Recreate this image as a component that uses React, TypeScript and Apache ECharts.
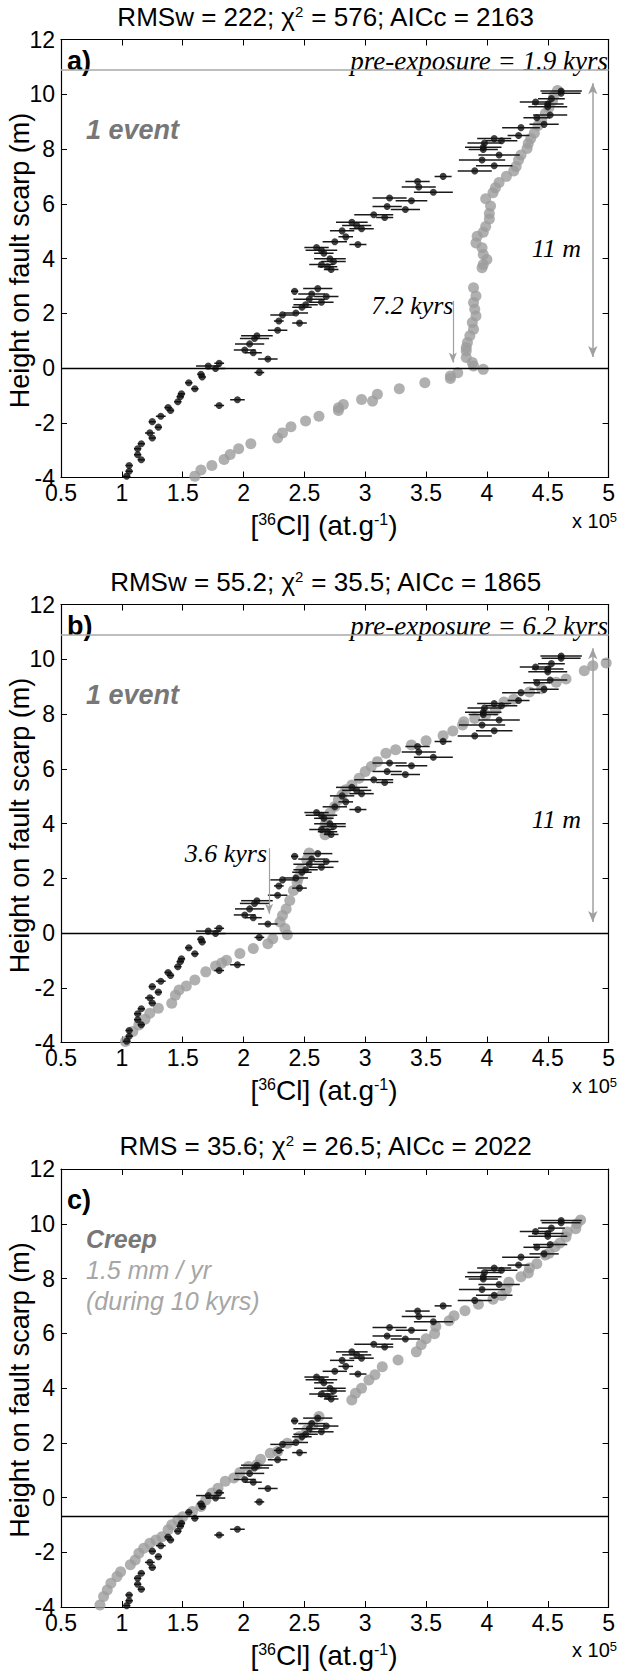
import React, { useEffect, useRef } from "react";
import * as echarts from "echarts";

// ---------------- data (concentration in 1e5 at/g, height in m) ----------------
const xTicks = ["0.5", "1", "1.5", "2", "2.5", "3", "3.5", "4", "4.5", "5"];
const yTicks = ["-4", "-2", "0", "2", "4", "6", "8", "10", "12"];

// measured samples: [concentration, height, half error bar]
const observed: number[][] = [
  [4.61, 10.12, 0.17], [4.61, 10.04, 0.16], [4.53, 9.84, 0.11], [4.40, 9.72, 0.13],
  [4.50, 9.64, 0.13], [4.50, 9.54, 0.16], [4.52, 9.24, 0.14], [4.41, 9.14, 0.11],
  [4.47, 8.90, 0.12], [4.28, 8.78, 0.155], [4.26, 8.49, 0.09], [4.06, 8.38, 0.14],
  [4.12, 8.30, 0.13], [3.98, 8.22, 0.14], [3.97, 8.06, 0.15], [3.97, 7.98, 0.12],
  [4.10, 7.78, 0.17], [3.96, 7.60, 0.19], [4.06, 7.39, 0.15], [3.90, 7.20, 0.14],
  [3.64, 7.00, 0.07], [3.43, 6.81, 0.10], [3.44, 6.61, 0.14], [3.56, 6.42, 0.16],
  [3.20, 6.21, 0.14], [3.38, 6.11, 0.13], [3.18, 5.90, 0.12], [3.33, 5.79, 0.12],
  [3.07, 5.60, 0.16], [3.16, 5.50, 0.07], [2.89, 5.32, 0.13], [2.93, 5.21, 0.12],
  [2.97, 5.09, 0.10], [2.81, 5.01, 0.10], [2.84, 4.79, 0.06], [2.75, 4.61, 0.10],
  [2.94, 4.51, 0.07], [2.60, 4.40, 0.10], [2.64, 4.30, 0.13], [2.66, 4.19, 0.08],
  [2.71, 3.99, 0.13], [2.74, 3.89, 0.10], [2.64, 3.78, 0.10], [2.69, 3.70, 0.08],
  [2.72, 3.60, 0.06], [2.61, 2.90, 0.12], [2.42, 2.80, 0.03], [2.56, 2.70, 0.11],
  [2.68, 2.61, 0.10], [2.54, 2.51, 0.13], [2.64, 2.40, 0.10], [2.51, 2.31, 0.10],
  [2.48, 2.22, 0.08], [2.43, 2.01, 0.10], [2.32, 1.94, 0.10], [2.29, 1.72, 0.04],
  [2.46, 1.64, 0.06], [2.28, 1.38, 0.08], [2.11, 1.18, 0.13], [2.09, 1.08, 0.12],
  [2.05, 0.88, 0.12], [2.01, 0.66, 0.09], [2.08, 0.56, 0.07], [2.20, 0.33, 0.08],
  [1.80, 0.17, 0.04], [1.71, 0.07, 0.10], [1.77, -0.02, 0.08], [2.13, -0.16, 0.04],
  [1.65, -0.23, 0.03], [1.66, -0.33, 0.03], [1.55, -0.54, 0.03], [1.60, -0.76, 0.03],
  [1.49, -0.94, 0.03], [1.48, -1.05, 0.03], [1.95, -1.16, 0.06], [1.46, -1.23, 0.03],
  [1.80, -1.37, 0.04], [1.38, -1.44, 0.03], [1.40, -1.55, 0.03], [1.32, -1.76, 0.04],
  [1.25, -1.96, 0.03], [1.30, -2.16, 0.03], [1.23, -2.37, 0.04], [1.25, -2.56, 0.03],
  [1.16, -2.77, 0.03], [1.13, -2.95, 0.03], [1.13, -3.17, 0.03], [1.16, -3.35, 0.03],
  [1.06, -3.56, 0.03], [1.06, -3.77, 0.03], [1.04, -3.95, 0.03],
];

// modelled profile, panel a (1 event, 7.2 kyrs)
const modelA: number[][] = [
  [4.58, 10.14], [4.55, 9.94], [4.54, 9.76], [4.51, 9.52], [4.48, 9.30], [4.45, 9.06],
  [4.42, 8.86], [4.39, 8.58], [4.36, 8.38], [4.34, 8.20], [4.33, 8.02], [4.28, 7.78],
  [4.26, 7.60], [4.24, 7.36], [4.22, 7.20], [4.16, 7.00], [4.10, 6.78], [4.07, 6.58],
  [4.05, 6.40], [3.99, 6.18], [4.03, 5.92], [4.02, 5.64], [4.02, 5.44], [3.99, 5.17],
  [3.97, 4.96], [3.92, 4.81], [3.91, 4.57], [3.96, 4.39], [3.97, 4.15], [4.00, 3.96],
  [3.97, 3.78], [3.96, 3.66], [3.89, 2.93], [3.91, 2.63], [3.89, 2.39], [3.90, 2.15],
  [3.91, 1.90], [3.88, 1.66], [3.89, 1.42], [3.86, 1.18], [3.84, 0.93], [3.83, 0.75],
  [3.83, 0.62], [3.83, 0.38], [3.88, 0.20], [3.89, 0.07], [3.97, -0.05], [3.76, -0.17],
  [3.70, -0.29], [3.70, -0.38], [3.49, -0.54], [3.28, -0.76], [3.10, -0.96], [2.97, -1.15],
  [3.06, -1.21], [2.82, -1.33], [2.78, -1.45], [2.78, -1.55], [2.62, -1.76], [2.51, -1.94],
  [2.39, -2.15], [2.32, -2.37], [2.28, -2.56], [2.06, -2.77], [1.96, -2.95], [1.89, -3.16],
  [1.84, -3.34], [1.74, -3.56], [1.65, -3.73], [1.60, -3.95],
];

// modelled profile, panel b (1 event, 3.6 kyrs)
const modelB: number[][] = [
  [4.98, 9.86], [4.87, 9.76], [4.80, 9.58], [4.65, 9.28], [4.57, 9.16], [4.45, 8.92],
  [4.35, 8.80], [4.22, 8.54], [4.14, 8.44], [4.07, 8.14], [3.99, 7.96], [3.90, 7.84],
  [3.81, 7.72], [3.80, 7.60], [3.72, 7.38], [3.64, 7.21], [3.50, 7.02], [3.38, 6.87],
  [3.25, 6.69], [3.17, 6.57], [3.10, 6.26], [3.05, 6.08], [3.00, 5.90], [2.95, 5.65],
  [2.89, 5.41], [2.84, 5.23], [2.81, 5.05], [2.78, 4.87], [2.75, 4.62], [2.71, 4.38],
  [2.68, 4.14], [2.67, 3.95], [2.67, 3.77], [2.67, 3.59], [2.54, 2.92], [2.52, 2.68],
  [2.47, 2.31], [2.45, 2.01], [2.44, 1.85], [2.41, 1.55], [2.38, 1.19], [2.35, 0.88],
  [2.32, 0.64], [2.30, 0.40], [2.34, 0.16], [2.36, -0.06], [2.24, -0.21], [2.20, -0.39],
  [2.08, -0.57], [1.97, -0.75], [1.86, -1.00], [1.82, -1.10], [1.77, -1.21], [1.69, -1.42],
  [1.60, -1.72], [1.53, -1.94], [1.47, -2.08], [1.44, -2.27], [1.41, -2.57], [1.30, -2.75],
  [1.23, -2.93], [1.19, -3.15], [1.14, -3.36], [1.09, -3.60], [1.03, -3.96],
];

// modelled profile, panel c (creep)
const modelC: number[][] = [
  [4.77, 10.14], [4.74, 10.00], [4.73, 9.82], [4.66, 9.70], [4.65, 9.52], [4.60, 9.30],
  [4.56, 9.16], [4.51, 8.92], [4.48, 8.86], [4.41, 8.54], [4.35, 8.38], [4.34, 8.20],
  [4.28, 8.06], [4.18, 7.86], [4.16, 7.60], [4.12, 7.38], [4.05, 7.24], [3.93, 7.06],
  [3.82, 6.82], [3.73, 6.64], [3.69, 6.46], [3.58, 6.25], [3.57, 5.98], [3.50, 5.80],
  [3.46, 5.58], [3.42, 5.32], [3.27, 5.02], [3.14, 4.78], [3.08, 4.48], [3.03, 4.29],
  [2.97, 3.99], [2.92, 3.81], [2.89, 3.56], [2.62, 2.96], [2.57, 2.65], [2.52, 2.47],
  [2.46, 2.23], [2.36, 1.98], [2.28, 1.68], [2.22, 1.62], [2.14, 1.40], [2.11, 1.20],
  [2.04, 1.13], [1.97, 0.91], [1.92, 0.71], [1.85, 0.59], [1.79, 0.34], [1.74, 0.16],
  [1.69, -0.09], [1.65, -0.33], [1.58, -0.51], [1.50, -0.70], [1.46, -0.82], [1.41, -1.00],
  [1.38, -1.18], [1.33, -1.43], [1.28, -1.55], [1.23, -1.67], [1.18, -1.85], [1.14, -2.04],
  [1.11, -2.28], [1.07, -2.46], [0.99, -2.71], [0.96, -2.89], [0.91, -3.13], [0.88, -3.38],
  [0.85, -3.62], [0.82, -3.93],
];

const models = [modelA, modelB, modelC];
const titles = [
  "RMSw = 222; χ{sup|2} = 576; AICc = 2163",
  "RMSw = 55.2; χ{sup|2} = 35.5; AICc = 1865",
  "RMS = 35.6; χ{sup|2} = 26.5; AICc = 2022",
];
const panelLetters = ["a)", "b)", "c)"];
const preExposureText = ["pre-exposure = 1.9 kyrs", "pre-exposure = 6.2 kyrs", ""];
const preExposureLevel = 10.88;
const baseLevel = [0, 0, -0.7];
const eventAge = ["7.2 kyrs", "3.6 kyrs", ""];
const eventArrowX = [3.72, 2.21, 0];
const eventArrowTop = [2.45, 3.1, 0];
const eventArrowTip = [0.2, 0.7, 0];
const eventLabelY = [2.27, 2.92, 0];
const scarpArrowX = 4.87;
const scarpArrowBottom = 0.4;
const scarpArrowTop = 10.4;
const scarpLabelY = [4.38, 4.14, 0];

// ---------------- layout ----------------
const W = 618;
const H = 1672;
const GRID_LEFT = 61;
const GRID_W = 555.5;
const GRID_H = 438;
const GRID_TOPS = [39.5, 604.5, 1169];
const X_MIN = 0.5, X_MAX = 5, Y_MIN = -4, Y_MAX = 12;

const SANS = "'Liberation Sans', Arial, Helvetica, sans-serif";
const SERIF = "'Liberation Serif', 'Times New Roman', serif";

const px = (x: number) => GRID_LEFT + ((x - X_MIN) / (X_MAX - X_MIN)) * GRID_W;
const py = (i: number, y: number) => GRID_TOPS[i] + ((Y_MAX - y) / (Y_MAX - Y_MIN)) * GRID_H;

export default function App() {
  const ref = useRef<HTMLDivElement>(null);
  useEffect(() => {
    document.body.style.margin = "0";
    if (!ref.current) return;
    const chart = echarts.init(ref.current, undefined, { renderer: "svg", width: W, height: H });

    const grids: any[] = [];
    const xAxes: any[] = [];
    const yAxes: any[] = [];
    const series: any[] = [];
    const graphics: any[] = [];

    const axisLine = { show: true, onZero: false, lineStyle: { color: "#000", width: 1.2 } };
    const tick = { show: true, inside: true, length: 6, lineStyle: { color: "#000", width: 1 } };
    const supRich = (size: number) => ({
      sup: { fontSize: size, fontFamily: SANS, verticalAlign: "top", lineHeight: size + 1, fill: "#000", color: "#000" },
    });

    for (let i = 0; i < 3; i++) {
      grids.push({ left: GRID_LEFT, top: GRID_TOPS[i], width: GRID_W, height: GRID_H, show: false });
      const xBase = {
        gridIndex: i, type: "value", min: X_MIN, max: X_MAX, interval: 0.5,
        axisLine, axisTick: tick, splitLine: { show: false },
      };
      xAxes.push({
        ...xBase, position: "bottom",
        axisLabel: {
          show: true, color: "#000", fontSize: 23, fontFamily: SANS, margin: 4,
          showMinLabel: true, showMaxLabel: true,
          formatter: (v: number) => xTicks[Math.round((v - X_MIN) / 0.5)] ?? String(v),
        },
      });
      xAxes.push({ ...xBase, position: "top", axisLabel: { show: false } });
      const yBase = {
        gridIndex: i, type: "value", min: Y_MIN, max: Y_MAX, interval: 2,
        axisLine, axisTick: tick, splitLine: { show: false },
      };
      yAxes.push({
        ...yBase, position: "left",
        axisLabel: {
          show: true, color: "#000", fontSize: 23, fontFamily: SANS, margin: 6,
          showMinLabel: true, showMaxLabel: true,
          formatter: (v: number) => yTicks[Math.round((v - Y_MIN) / 2)] ?? String(v),
        },
      });
      yAxes.push({ ...yBase, position: "right", axisLabel: { show: false } });

      const xi = 2 * i;
      const yi = 2 * i;

      const mlData: any[] = [
        { yAxis: baseLevel[i], lineStyle: { color: "#000", width: 1.3, type: "solid" } },
      ];
      if (i < 2) {
        mlData.push({ yAxis: preExposureLevel, lineStyle: { color: "#a8a8a8", width: 1.5, type: "solid" } });
        mlData.push([
          { coord: [scarpArrowX, scarpArrowBottom], symbol: "arrow", symbolSize: [7, 11], lineStyle: { color: "#a0a0a0", width: 1.5, type: "solid" } },
          { coord: [scarpArrowX, scarpArrowTop], symbol: "arrow", symbolSize: [7, 11] },
        ]);
        mlData.push([
          { coord: [eventArrowX[i], eventArrowTop[i]], symbol: "none", lineStyle: { color: "#a0a0a0", width: 1.2, type: "solid" } },
          { coord: [eventArrowX[i], eventArrowTip[i]], symbol: "arrow", symbolSize: [6, 10] },
        ]);
      }

      series.push({
        type: "scatter", name: "model " + panelLetters[i], xAxisIndex: xi, yAxisIndex: yi,
        data: models[i], symbol: "circle", symbolSize: 11,
        itemStyle: { color: "#9c9c9c" }, z: 2, clip: true, silent: true,
        markLine: {
          silent: true, symbol: "none", label: { show: false }, animation: false,
          data: mlData,
        },
      });
      series.push({
        type: "custom", name: "error " + panelLetters[i], xAxisIndex: xi, yAxisIndex: yi,
        data: observed, z: 3, silent: true, clip: true,
        encode: { x: 0, y: 1 },
        renderItem: (params: any, api: any) => {
          const x = api.value(0);
          const y = api.value(1);
          const e = api.value(2);
          const a = api.coord([x - e, y]);
          const b = api.coord([x + e, y]);
          return {
            type: "line",
            shape: { x1: a[0], y1: a[1], x2: b[0], y2: b[1] },
            style: { stroke: "#1a1a1a", lineWidth: 1.5 },
          };
        },
      });
      series.push({
        type: "scatter", name: "data " + panelLetters[i], xAxisIndex: xi, yAxisIndex: yi,
        data: observed.map((d) => [d[0], d[1]]), symbol: "circle", symbolSize: 7,
        itemStyle: { color: "#111" }, z: 4, clip: true, silent: true,
      });

      const top = GRID_TOPS[i];
      const bottom = top + GRID_H;
      // title
      graphics.push({
        type: "text", x: 326, y: top - 23,
        style: { text: titles[i], font: `26px ${SANS}`, fill: "#000", align: "center", verticalAlign: "middle", rich: supRich(15) },
      });
      // x axis label
      graphics.push({
        type: "text", x: 324, y: bottom + 48,
        style: { text: "[{sup|36}Cl] (at.g{sup|-1})", font: `28px ${SANS}`, fill: "#000", align: "center", verticalAlign: "middle", rich: supRich(16) },
      });
      graphics.push({
        type: "text", x: 617, y: bottom + 43,
        style: { text: "x 10{sup|5}", font: `20px ${SANS}`, fill: "#000", align: "right", verticalAlign: "middle", rich: supRich(13) },
      });
      // y axis label
      graphics.push({
        type: "text", x: 20, y: top + GRID_H / 2 + 2, rotation: Math.PI / 2,
        style: { text: "Height on fault scarp (m)", font: `27px ${SANS}`, fill: "#000", align: "center", verticalAlign: "middle" },
      });
      // panel letter
      graphics.push({
        type: "text", x: 67, y: top + (i < 2 ? 21 : 31),
        style: { text: panelLetters[i], font: `bold 27px ${SANS}`, fill: "#000", align: "left", verticalAlign: "middle" },
      });
      if (i < 2) {
        graphics.push({
          type: "text", x: 608, y: top + 21,
          style: { text: preExposureText[i], font: `italic 27px ${SERIF}`, fill: "#000", align: "right", verticalAlign: "middle" },
        });
        graphics.push({
          type: "text", x: 86, y: py(i, 8.69),
          style: { text: "1 event", font: `italic bold 27px ${SANS}`, fill: "#777", align: "left", verticalAlign: "middle" },
        });
        graphics.push({
          type: "text", x: 581, y: py(i, scarpLabelY[i]),
          style: { text: "11 m", font: `italic 26px ${SERIF}`, fill: "#000", align: "right", verticalAlign: "middle" },
        });
        graphics.push({
          type: "text", x: px(eventArrowX[i]) - 5, y: py(i, eventLabelY[i]),
          style: { text: eventAge[i], font: `italic 26px ${SERIF}`, fill: "#000", align: "right", verticalAlign: "middle" },
        });
      } else {
        graphics.push({
          type: "text", x: 86, y: top + 70,
          style: { text: "Creep", font: `italic bold 25px ${SANS}`, fill: "#777", align: "left", verticalAlign: "middle" },
        });
        graphics.push({
          type: "text", x: 86, y: top + 101,
          style: { text: "1.5 mm / yr", font: `italic 25px ${SANS}`, fill: "#a6a6a6", align: "left", verticalAlign: "middle" },
        });
        graphics.push({
          type: "text", x: 86, y: top + 132,
          style: { text: "(during 10 kyrs)", font: `italic 25px ${SANS}`, fill: "#a6a6a6", align: "left", verticalAlign: "middle" },
        });
      }
    }

    chart.setOption({
      animation: false,
      backgroundColor: "#fff",
      grid: grids,
      xAxis: xAxes,
      yAxis: yAxes,
      series,
      graphic: { elements: graphics },
    });
    return () => chart.dispose();
  }, []);

  return (
    <div
      ref={ref}
      style={{ position: "absolute", left: 0, top: 0, width: W, height: H, background: "#fff" }}
    />
  );
}
